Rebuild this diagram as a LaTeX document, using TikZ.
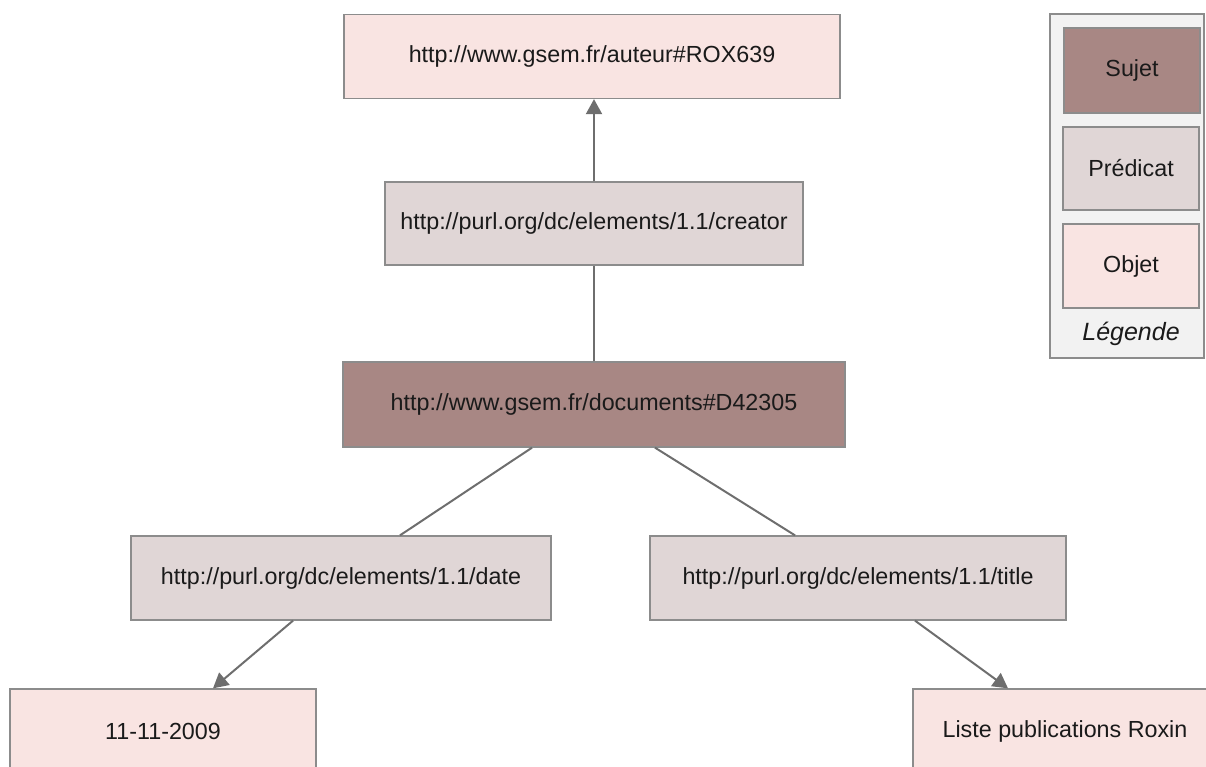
\documentclass[tikz,border=0pt]{standalone}
\usepackage{fontspec}
\setmainfont{Liberation Sans}
\usetikzlibrary{arrows.meta}
\definecolor{sujetc}{HTML}{A88784}
\definecolor{predc}{HTML}{E0D6D6}
\definecolor{objc}{HTML}{F9E4E2}
\definecolor{legbg}{HTML}{F2F2F2}
\definecolor{bordc}{HTML}{8C8C8C}
\definecolor{linec}{HTML}{6E6E6E}
\definecolor{txtc}{HTML}{1A1A1A}
\tikzset{
  box/.style={draw=bordc, line width=1.3pt, inner sep=0pt, text=txtc,
    font=\fontsize{23.3}{27}\selectfont},
  sujet/.style={box, fill=sujetc},
  pred/.style={box, fill=predc},
  obj/.style={box, fill=objc},
  conn/.style={draw=linec, line width=2pt},
  arr/.style={conn, -{Triangle[length=15pt,width=16pt]}},
}
\begin{document}
\begin{tikzpicture}[x=1pt,y=-1pt]
\useasboundingbox (0,0) rectangle (1206,767);
% main nodes
\node[obj, minimum width=496pt, minimum height=84pt] (auteur) at (592,56.5) {http://www.gsem.fr/auteur\#ROX639};
\node[pred, minimum width=418pt, minimum height=83pt] (creator) at (594,223.5) {http://purl.org/dc/elements/1.1/creator};
\node[sujet, minimum width=502pt, minimum height=85pt] (doc) at (594,404.5) {http://www.gsem.fr/documents\#D42305};
\node[pred, minimum width=420pt, minimum height=84pt] (date) at (341,578) {http://purl.org/dc/elements/1.1/date};
\node[pred, minimum width=416pt, minimum height=84pt] (title) at (858,578) {http://purl.org/dc/elements/1.1/title};
\node[obj, minimum width=306pt, minimum height=84pt] (dateval) at (163,731) {11-11-2009};
\node[obj, minimum width=304pt, minimum height=84pt] (titleval) at (1065,731) {Liste publications Roxin};
% connectors
\draw[arr] (creator.north) -- (creator.north |- auteur.south);
\draw[conn] (doc.north) -- (creator.south);
\draw[conn] ([xshift=-62pt]doc.south) -- ([xshift=59pt]date.north);
\draw[conn] ([xshift=61pt]doc.south) -- ([xshift=-63pt]title.north);
\draw[arr] ([xshift=-48pt]date.south) -- ([xshift=50pt]dateval.north);
\draw[arr] ([xshift=57pt]title.south) -- ([xshift=-57pt]titleval.north);
% legend
\node[draw=bordc, line width=1.3pt, fill=legbg, minimum width=154pt, minimum height=344pt, inner sep=0pt] (legend) at (1127,186) {};
\node[sujet, minimum width=136pt, minimum height=85pt] (lsujet) at (1132,70.5) {Sujet};
\node[pred, minimum width=136pt, minimum height=83pt] (lpred) at (1131,168.5) {Prédicat};
\node[obj, minimum width=136pt, minimum height=84pt] (lobj) at (1131,266) {Objet};
\node[text=txtc, font=\fontsize{25}{29}\selectfont\itshape, inner sep=0pt] (ltitle) at (1131,334) {Légende};
\end{tikzpicture}
\end{document}
